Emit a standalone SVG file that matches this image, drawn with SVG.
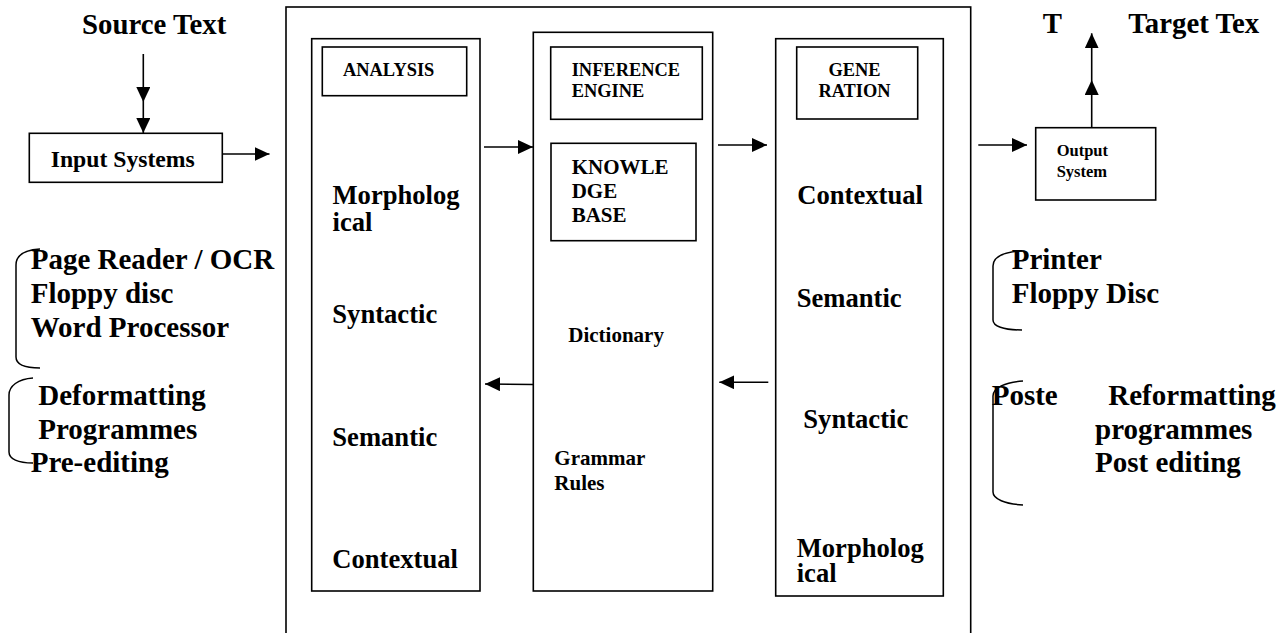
<svg xmlns="http://www.w3.org/2000/svg" width="1286" height="633" viewBox="0 0 1286 633">
<defs>
<style>
.box{fill:none;stroke:#000;stroke-width:1.6}
.ln{fill:none;stroke:#000;stroke-width:1.6}
.br{fill:none;stroke:#000;stroke-width:1.5}
text{font-family:"Liberation Serif","Times New Roman",serif;font-weight:bold;fill:#000}
.side{font-size:29px}
.ttl{font-size:28.8px}
.col{font-size:26.6px}
.hd{font-size:18.4px}
.kb{font-size:21px}
.md{font-size:21px}
.in{font-size:23.7px}
.out{font-size:16.5px}
</style>
<marker id="ah" markerUnits="userSpaceOnUse" markerWidth="16" markerHeight="14" refX="15" refY="7" orient="auto">
<path d="M0,0 L15,7 L0,14 z" fill="#000"/>
</marker>
</defs>
<rect width="1286" height="633" fill="#fff"/>

<g id="outer-frame">
<rect class="box" x="286" y="7" width="684.7" height="640"/>
</g>

<g id="source-text">
<text class="ttl" x="82" y="34">Source Text</text>
</g>

<g id="input-systems">
<rect class="box" x="29.3" y="133.3" width="193" height="49"/>
<text class="in" x="50.7" y="166.5">Input Systems</text>
</g>

<g id="input-devices">
<path class="br" d="M40,249 C24,250 16,256 16,265 L16,357 C16,364 24,368 40,368"/>
<text class="side" x="30.7" y="269.3">Page Reader / OCR</text>
<text class="side" x="30.7" y="302.7">Floppy disc</text>
<text class="side" x="30.7" y="337">Word Processor</text>
</g>

<g id="pre-processing">
<path class="br" d="M33,378 C18,379 9,386 9,395 L9,452 C9,459 18,463 33,463"/>
<text class="side" x="38.3" y="405">Deformatting</text>
<text class="side" x="38.3" y="438.5">Programmes</text>
<text class="side" x="30.7" y="472">Pre-editing</text>
</g>

<g id="analysis">
<rect class="box" x="311.7" y="38.7" width="168.3" height="552.3"/>
<rect class="box" x="322.3" y="47" width="144.4" height="48.7"/>
<text class="hd" x="343" y="76">ANALYSIS</text>
<text class="col" x="332.5" y="203.5">Morpholog</text>
<text class="col" x="332.5" y="230.5">ical</text>
<text class="col" x="332.3" y="322.7">Syntactic</text>
<text class="col" x="332.3" y="445.7">Semantic</text>
<text class="col" x="332.3" y="567.7">Contextual</text>
</g>

<g id="inference">
<rect class="box" x="533.3" y="32.3" width="179.4" height="558.7"/>
<rect class="box" x="550.7" y="47" width="151.6" height="72.3"/>
<text class="hd" x="571.7" y="76">INFERENCE</text>
<text class="hd" x="571.7" y="97.3">ENGINE</text>
<rect class="box" x="551" y="143.3" width="145" height="97.4"/>
<text class="kb" x="571.7" y="173.5">KNOWLE</text>
<text class="kb" x="571.7" y="198">DGE</text>
<text class="kb" x="571.7" y="222.3">BASE</text>
<text class="md" x="568.3" y="341.7">Dictionary</text>
<text class="md" x="554.3" y="465">Grammar</text>
<text class="md" x="554.3" y="490">Rules</text>
</g>

<g id="generation">
<rect class="box" x="775.7" y="38.7" width="167.6" height="557.3"/>
<rect class="box" x="796.7" y="47" width="121" height="72"/>
<text class="hd" x="854.5" y="76" text-anchor="middle">GENE</text>
<text class="hd" x="854.5" y="97.3" text-anchor="middle">RATION</text>
<text class="col" x="797.3" y="204">Contextual</text>
<text class="col" x="796.7" y="307.3">Semantic</text>
<text class="col" x="803.3" y="428.3">Syntactic</text>
<text class="col" x="796.7" y="556.7">Morpholog</text>
<text class="col" x="796.7" y="582">ical</text>
</g>

<g id="output-system">
<rect class="box" x="1035.7" y="127.7" width="120" height="72.3"/>
<text class="out" x="1056.7" y="156">Output</text>
<text class="out" x="1056.7" y="177.3">System</text>
</g>

<g id="target-text">
<text class="ttl" x="1042.7" y="33.3">T</text>
<text class="ttl" x="1128.3" y="33.3">Target Tex</text>
</g>

<g id="output-devices">
<path class="br" d="M1022,251 C1003,252 993,257 993,266 L993,320 C993,326 1003,330 1022,330"/>
<text class="side" x="1011.7" y="269.3">Printer</text>
<text class="side" x="1011.7" y="302.7">Floppy Disc</text>
</g>

<g id="post-processing">
<path class="br" d="M1023,381 C1005,382 993,388 993,396 L993,492 C993,499 1005,504 1023,505"/>
<text class="side" x="991.7" y="405">Poste</text>
<text class="side" x="1108.3" y="405">Reformatting</text>
<text class="side" x="1095" y="438.5">programmes</text>
<text class="side" x="1095" y="472">Post editing</text>
</g>

<g id="connectors">
<line class="ln" x1="143.3" y1="54" x2="143.3" y2="102" marker-end="url(#ah)"/>
<line class="ln" x1="143.3" y1="102" x2="143.3" y2="133" marker-end="url(#ah)"/>
<line class="ln" x1="222.3" y1="154" x2="269.5" y2="154" marker-end="url(#ah)"/>
<line class="ln" x1="484" y1="147" x2="533" y2="147" marker-end="url(#ah)"/>
<line class="ln" x1="718" y1="145" x2="767" y2="145" marker-end="url(#ah)"/>
<line class="ln" x1="978.3" y1="145" x2="1027" y2="145" marker-end="url(#ah)"/>
<line class="ln" x1="533.3" y1="384.5" x2="485" y2="384" marker-end="url(#ah)"/>
<line class="ln" x1="768.3" y1="382.3" x2="719.3" y2="382.3" marker-end="url(#ah)"/>
<line class="ln" x1="1091.7" y1="127.7" x2="1091.7" y2="80" marker-end="url(#ah)"/>
<line class="ln" x1="1091.7" y1="80" x2="1091.7" y2="33.3" marker-end="url(#ah)"/>
</g>
</svg>
